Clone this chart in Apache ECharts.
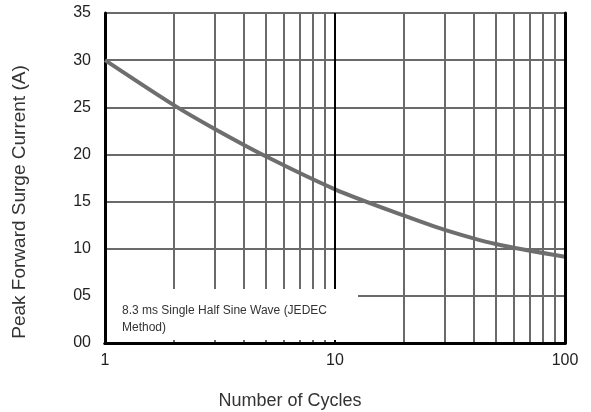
<!DOCTYPE html>
<html style="height: 100%">
<head>
<meta charset="utf-8">
<script src="https://cdn.jsdelivr.net/npm/echarts@6/dist/echarts.min.js"></script>
</head>
<body style="height: 100%; margin: 0; background: #fff;">
<div id="container" style="width: 591px; height: 412px;"></div>
<script type="text/javascript">
// surge curve
var cycles = [1, 2, 3, 5, 10, 20, 30, 50, 100];
var current = [30, 25.2, 22.7, 19.8, 16.3, 13.5, 12.0, 10.5, 9.15];
// minor log gridlines
var gridCycles = [2, 3, 4, 5, 6, 7, 8, 9, 20, 30, 40, 50, 60, 70, 80, 90];
var xTicks = [1, 10, 100];
var yTitle = 'Peak Forward Surge Current (A)';
var xTitle = 'Number of Cycles';
var note = '8.3 ms Single Half Sine Wave (JEDEC\nMethod)';

var chart = echarts.init(document.getElementById('container'));

var curveData = cycles.map(function (c, i) { return [c, current[i]]; });
var vLines = gridCycles.map(function (c) { return { xAxis: c }; });
vLines.push({ xAxis: 10, lineStyle: { color: '#000', width: 2 } });

var fontFam = 'Liberation Sans, Arial, sans-serif';

var option = {
    animation: false,
    grid: {
        left: 105, right: 26, top: 13, bottom: 69,
        show: false
    },
    xAxis: [{
        type: 'log',
        logBase: 10,
        min: 1,
        max: 100,
        axisLine: { lineStyle: { color: '#000', width: 3 } },
        axisTick: { show: false },
        splitLine: { show: false },
        axisLabel: {
            color: '#222', fontSize: 16, fontFamily: fontFam, margin: 10,
            formatter: function (v) { return xTicks.indexOf(v) >= 0 ? String(v) : ''; }
        }
    }, {
        type: 'log',
        logBase: 10,
        min: 1,
        max: 100,
        position: 'top',
        z: 5,
        axisLine: { lineStyle: { color: '#000', width: 3 } },
        axisTick: { show: false },
        splitLine: { show: false },
        axisLabel: { show: false }
    }],
    yAxis: [{
        type: 'value',
        min: 0,
        max: 35,
        interval: 5,
        axisLine: { show: true, lineStyle: { color: '#000', width: 3 } },
        axisTick: { show: false },
        splitLine: { lineStyle: { color: '#6a6a6a', width: 2 } },
        axisLabel: {
            color: '#222', fontSize: 16, fontFamily: fontFam, margin: 14,
            formatter: function (v) { return (v < 10 ? '0' : '') + v; }
        }
    }, {
        type: 'value',
        min: 0,
        max: 35,
        interval: 5,
        position: 'right',
        z: 5,
        axisLine: { show: true, lineStyle: { color: '#000', width: 3 } },
        axisTick: { show: false },
        splitLine: { show: false },
        axisLabel: { show: false }
    }],
    series: [{
        type: 'line',
        data: curveData,
        smooth: 0.3,
        showSymbol: false,
        z: 3,
        lineStyle: { color: '#6e6e6e', width: 4 },
        markLine: {
            silent: true,
            symbol: 'none',
            label: { show: false },
            lineStyle: { color: '#6a6a6a', width: 2, type: 'solid' },
            data: vLines
        }
    }],
    graphic: [{
        type: 'rect',
        z: 100,
        shape: { x: 107, y: 289, width: 251, height: 51 },
        style: { fill: '#fff' }
    }, {
        type: 'text',
        z: 101,
        left: 122,
        top: 302,
        style: {
            text: note,
            fill: '#333',
            font: '12px ' + fontFam,
            lineHeight: 17
        }
    }, {
        type: 'text',
        z: 101,
        x: 20,
        y: 202,
        rotation: Math.PI / 2,
        style: {
            text: yTitle,
            fill: '#333',
            font: '19px ' + fontFam,
            align: 'center',
            verticalAlign: 'middle'
        }
    }, {
        type: 'text',
        z: 101,
        x: 290,
        y: 401,
        style: {
            text: xTitle,
            fill: '#333',
            font: '18px ' + fontFam,
            align: 'center',
            verticalAlign: 'middle'
        }
    }]
};

chart.setOption(option);
</script>
</body>
</html>
